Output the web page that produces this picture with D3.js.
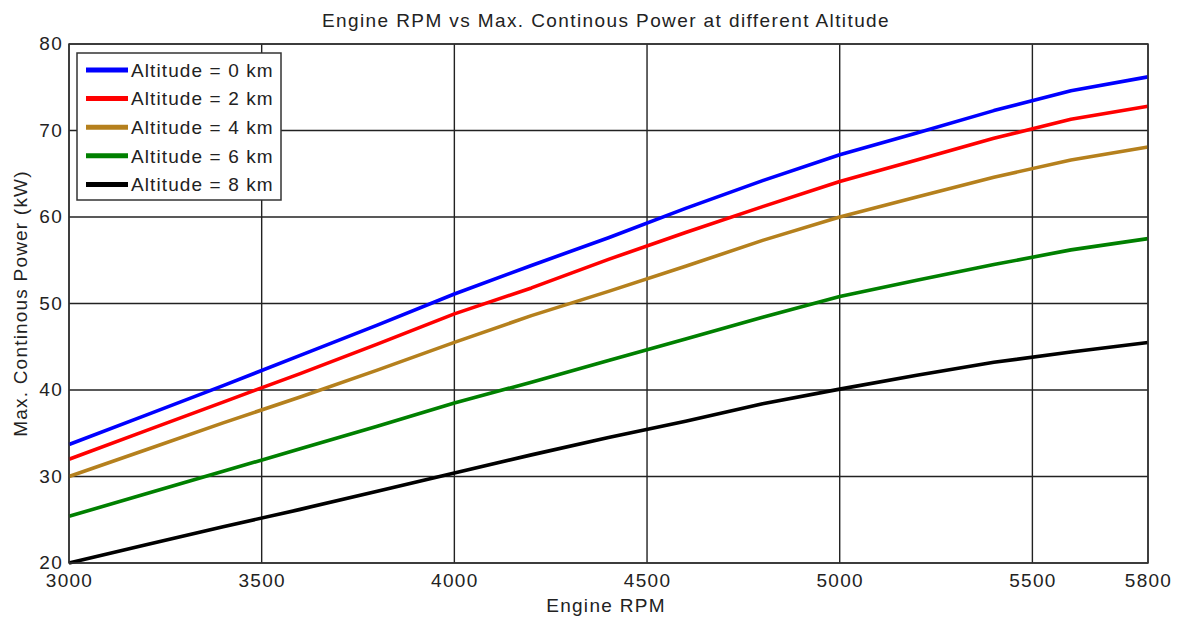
<!DOCTYPE html>
<html>
<head>
<meta charset="utf-8">
<script src="https://cdn.jsdelivr.net/npm/d3@7"></script>
<style>
  html, body { margin: 0; padding: 0; background: #fff; }
  svg text { font-family: "Liberation Sans", Arial, sans-serif; fill: #222; }
</style>
</head>
<body>
<svg id="chart" width="1177" height="618"></svg>
<script>
// ---- data ----
const rpm = [3000, 3200, 3400, 3600, 3800, 4000, 4200, 4400, 4600, 4800, 5000, 5200, 5400, 5600, 5800];
const alt0 = [33.7, 37.1, 40.5, 44.0, 47.5, 51.1, 54.4, 57.6, 61.0, 64.2, 67.2, 69.7, 72.3, 74.6, 76.2];
const alt2 = [32.0, 35.3, 38.6, 41.9, 45.3, 48.8, 51.8, 55.1, 58.2, 61.2, 64.1, 66.6, 69.1, 71.3, 72.8];
const alt4 = [30.0, 33.1, 36.2, 39.2, 42.3, 45.5, 48.6, 51.4, 54.3, 57.3, 60.0, 62.3, 64.6, 66.6, 68.1];
const alt6 = [25.4, 28.0, 30.6, 33.2, 35.8, 38.5, 40.9, 43.4, 45.9, 48.4, 50.8, 52.7, 54.5, 56.2, 57.5];
const alt8 = [20.0, 22.1, 24.2, 26.2, 28.3, 30.4, 32.5, 34.5, 36.4, 38.4, 40.1, 41.7, 43.2, 44.4, 45.5];
const seriesNames = ["Altitude = 0 km", "Altitude = 2 km", "Altitude = 4 km", "Altitude = 6 km", "Altitude = 8 km"];
const seriesColors = ["#0000ff", "#ff0000", "#b5801d", "#008000", "#000000"];
const xTicks = [3000, 3500, 4000, 4500, 5000, 5500, 5800];
const yTicks = [20, 30, 40, 50, 60, 70, 80];
const titleText = "Engine RPM vs Max. Continous Power at different Altitude";
const xLabel = "Engine RPM";
const yLabel = "Max. Continous Power (kW)";

const seriesValues = [alt0, alt2, alt4, alt6, alt8];

// ---- layout ----
const svg = d3.select("#chart");
const margin = { left: 69, top: 44, right: 1177 - 1148, bottom: 618 - 563 };
const W = 1177, H = 618;
const x = d3.scaleLinear().domain([3000, 5800]).range([margin.left, W - margin.right]);
const y = d3.scaleLinear().domain([20, 80]).range([H - margin.bottom, margin.top]);

// grid
const grid = svg.append("g");
grid.selectAll("line.gx").data(xTicks).join("line")
  .attr("x1", d => x(d)).attr("x2", d => x(d))
  .attr("y1", y(20)).attr("y2", y(80))
  .attr("stroke", "#222").attr("stroke-width", 1.4);
grid.selectAll("line.gy").data(yTicks).join("line")
  .attr("y1", d => y(d)).attr("y2", d => y(d))
  .attr("x1", x(3000)).attr("x2", x(5800))
  .attr("stroke", "#222").attr("stroke-width", 1.4);

// axes
const xAxis = d3.axisBottom(x).tickValues(xTicks).tickSize(0).tickPadding(11).tickFormat(d3.format("d"));
const yAxis = d3.axisLeft(y).tickValues(yTicks).tickSize(0).tickPadding(6).tickFormat(d3.format("d"));
const gx = svg.append("g").attr("transform", `translate(0,${y(20)})`).call(xAxis);
const gy = svg.append("g").attr("transform", `translate(${x(3000)},0)`).call(yAxis);
[gx, gy].forEach(g => {
  g.select(".domain").remove();
  g.selectAll("text").style("font-size", "19px").style("letter-spacing", "1.3px").attr("fill", "#222");
});
gy.selectAll("text").attr("dy", "0.3em");

// lines
const line = d3.line().x((d, i) => x(rpm[i])).y(d => y(d));
const plot = svg.append("g");
seriesValues.forEach((vals, k) => {
  plot.append("path")
    .datum(vals)
    .attr("d", line)
    .attr("fill", "none")
    .attr("stroke", seriesColors[k])
    .attr("stroke-width", 3.6)
    .attr("stroke-linejoin", "round");
});

// frame
svg.append("rect")
  .attr("x", x(3000)).attr("y", y(80))
  .attr("width", x(5800) - x(3000)).attr("height", y(20) - y(80))
  .attr("fill", "none").attr("stroke", "#333").attr("stroke-width", 1.5);

// legend
const lg = svg.append("g");
lg.append("rect")
  .attr("x", 77).attr("y", 53).attr("width", 204).attr("height", 147)
  .attr("fill", "#fff").attr("stroke", "#333").attr("stroke-width", 1.5);
seriesNames.forEach((name, k) => {
  const cy = 70 + k * 28.6;
  lg.append("line")
    .attr("x1", 86).attr("x2", 128).attr("y1", cy).attr("y2", cy)
    .attr("stroke", seriesColors[k]).attr("stroke-width", 5);
  lg.append("text")
    .attr("x", 131).attr("y", cy).attr("dy", "0.36em")
    .style("font-size", "19px").style("letter-spacing", "1.1px")
    .text(name);
});

// titles
svg.append("text").attr("x", 606).attr("y", 27).attr("text-anchor", "middle")
  .style("font-size", "19px").style("letter-spacing", "1.4px").text(titleText);
svg.append("text").attr("x", 606).attr("y", 612).attr("text-anchor", "middle")
  .style("font-size", "19px").style("letter-spacing", "1.3px").text(xLabel);
svg.append("text")
  .attr("transform", `translate(27,${(y(20) + y(80)) / 2}) rotate(-90)`)
  .attr("text-anchor", "middle")
  .style("font-size", "19px").style("letter-spacing", "1.2px").text(yLabel);
</script>
</body>
</html>
